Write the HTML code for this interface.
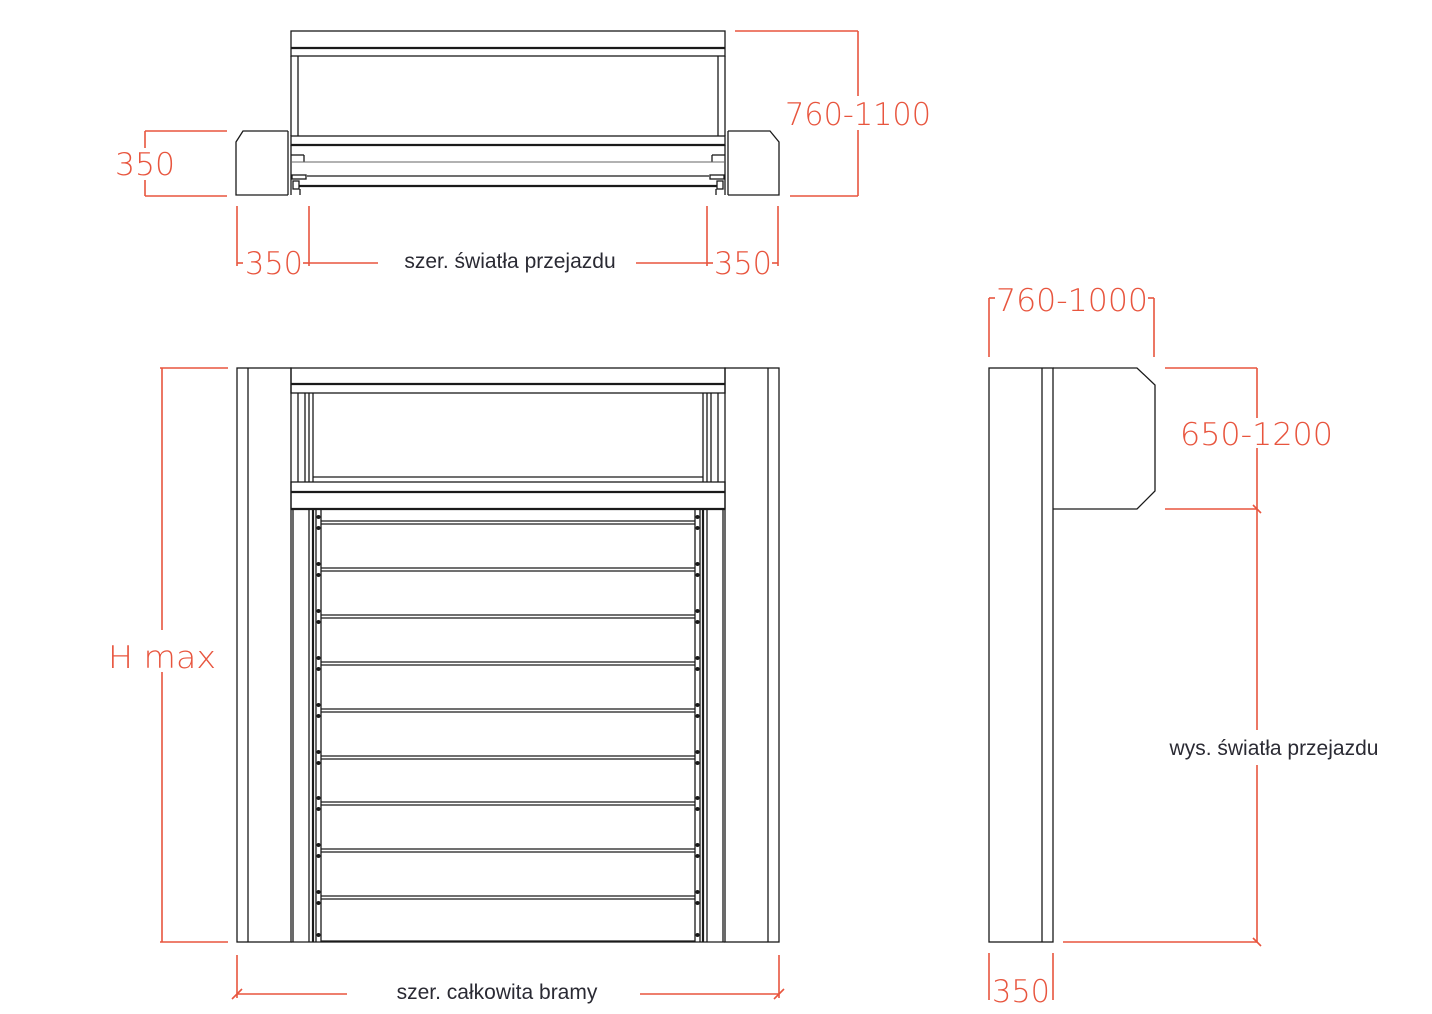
<!DOCTYPE html>
<html><head><meta charset="utf-8"><style>
html,body{margin:0;padding:0;background:#fff;}
svg{display:block;}
.k{stroke:#1a1a1a;fill:none;stroke-width:1.3}
.kb{stroke:#1a1a1a;fill:none;stroke-width:2.2}
.g{stroke:#666;fill:none;stroke-width:1}
.r{stroke:#e8553e;fill:none;stroke-width:1.6}
.rt{fill:#e8553e;font-family:"DejaVu Sans ExtraLight","DejaVu Sans","Liberation Sans",sans-serif;font-size:31px;font-weight:200}
.bt{fill:#2a2a33;font-family:"Liberation Sans","DejaVu Sans",sans-serif;font-size:21px}
</style></head><body>
<svg width="1432" height="1014" viewBox="0 0 1432 1014" xmlns="http://www.w3.org/2000/svg">
<!-- ===== TOP VIEW ===== -->
<rect class="k" x="291" y="31" width="434" height="25"/>
<line class="kb" x1="291" y1="48" x2="725" y2="48"/>
<line class="k" x1="291" y1="56" x2="291" y2="136"/><line class="k" x1="298" y1="56" x2="298" y2="136"/>
<line class="k" x1="718" y1="56" x2="718" y2="136"/><line class="k" x1="725" y1="56" x2="725" y2="136"/>
<rect class="k" x="291" y="136" width="434" height="9"/>
<line class="kb" x1="291" y1="145" x2="725" y2="145"/>
<line class="k" x1="291" y1="145" x2="291" y2="195"/><line class="k" x1="725" y1="145" x2="725" y2="195"/>
<line class="k" x1="291" y1="155" x2="304" y2="155"/><line class="k" x1="304" y1="155" x2="304" y2="162"/>
<line class="k" x1="712" y1="155" x2="725" y2="155"/><line class="k" x1="712" y1="155" x2="712" y2="162"/>
<line class="g" x1="291" y1="162" x2="725" y2="162"/>
<line class="k" x1="307" y1="176" x2="709" y2="176"/>
<rect class="k" x="292" y="175" width="14" height="4"/><rect class="k" x="710" y="175" width="14" height="4"/>
<rect class="k" x="293" y="181" width="6" height="8"/><rect class="k" x="717" y="181" width="6" height="8"/>
<line class="kb" x1="299" y1="186" x2="717" y2="186"/>
<line class="k" x1="300" y1="189" x2="300" y2="195"/><line class="k" x1="716" y1="189" x2="716" y2="195"/>
<path class="k" d="M288 131 H243 L236 142 V195 H288"/>
<path class="k" d="M728 131 H770 L779 142 V195 H728"/>
<line class="k" x1="728" y1="131" x2="728" y2="195"/>
<line class="k" x1="288" y1="131" x2="288" y2="195"/>
<!-- top dims -->
<line class="r" x1="145" y1="131" x2="227" y2="131"/><line class="r" x1="145" y1="196" x2="227" y2="196"/>
<line class="r" x1="145" y1="131" x2="145" y2="148"/><line class="r" x1="145" y1="180" x2="145" y2="196"/>
<text class="rt" x="115" y="175" textLength="60" lengthAdjust="spacingAndGlyphs">350</text>
<line class="r" x1="735" y1="31" x2="858" y2="31"/><line class="r" x1="790" y1="196" x2="858" y2="196"/>
<line class="r" x1="858" y1="31" x2="858" y2="96"/><line class="r" x1="858" y1="130" x2="858" y2="196"/>
<text class="rt" x="785" y="125" textLength="146" lengthAdjust="spacingAndGlyphs">760-1100</text>
<line class="r" x1="237" y1="206" x2="237" y2="266"/><line class="r" x1="309" y1="206" x2="309" y2="266"/>
<line class="r" x1="707" y1="206" x2="707" y2="266"/><line class="r" x1="778" y1="206" x2="778" y2="266"/>
<line class="r" x1="309" y1="263" x2="378" y2="263"/><line class="r" x1="636" y1="263" x2="707" y2="263"/>
<line class="r" x1="237" y1="263" x2="243" y2="263"/><line class="r" x1="303" y1="263" x2="309" y2="263"/>
<line class="r" x1="707" y1="263" x2="713" y2="263"/><line class="r" x1="772" y1="263" x2="778" y2="263"/>
<text class="rt" x="245" y="274" textLength="58" lengthAdjust="spacingAndGlyphs">350</text>
<text class="rt" x="714" y="274" textLength="58" lengthAdjust="spacingAndGlyphs">350</text>
<text class="bt" x="510" y="268" text-anchor="middle">szer. światła przejazdu</text>

<!-- ===== FRONT VIEW ===== -->
<rect class="k" x="237" y="368" width="54" height="574"/>
<line class="k" x1="248" y1="368" x2="248" y2="942"/>
<rect class="k" x="725" y="368" width="54" height="574"/>
<line class="k" x1="768" y1="368" x2="768" y2="942"/>
<rect class="k" x="291" y="368" width="434" height="25"/>
<line class="kb" x1="291" y1="384" x2="725" y2="384"/>
<line class="k" x1="298" y1="393" x2="298" y2="482"/><line class="k" x1="305" y1="393" x2="305" y2="482"/>
<line class="k" x1="309" y1="393" x2="309" y2="482"/><line class="k" x1="313" y1="393" x2="313" y2="482"/>
<line class="k" x1="718" y1="393" x2="718" y2="482"/><line class="k" x1="711" y1="393" x2="711" y2="482"/>
<line class="k" x1="707" y1="393" x2="707" y2="482"/><line class="k" x1="703" y1="393" x2="703" y2="482"/>
<line class="k" x1="313" y1="477" x2="703" y2="477"/>
<rect class="k" x="291" y="482" width="434" height="27"/>
<line class="kb" x1="291" y1="492" x2="725" y2="492"/>
<line class="kb" x1="291" y1="509" x2="725" y2="509"/>
<!-- rails -->
<line class="k" x1="293" y1="509" x2="293" y2="942"/><line class="k" x1="309" y1="509" x2="309" y2="942"/>
<line class="kb" x1="313" y1="509" x2="313" y2="942"/><line class="k" x1="316" y1="509" x2="316" y2="942"/>
<line class="k" x1="321" y1="509" x2="321" y2="942"/>
<line class="k" x1="723" y1="509" x2="723" y2="942"/><line class="k" x1="707" y1="509" x2="707" y2="942"/>
<line class="kb" x1="703" y1="509" x2="703" y2="942"/><line class="k" x1="700" y1="509" x2="700" y2="942"/>
<line class="k" x1="695" y1="509" x2="695" y2="942"/>
<g stroke="#1a1a1a" stroke-width="1.3">
<path d="M321 521H695M321 524H695 M321 568H695M321 571H695 M321 615H695M321 618H695 M321 662H695M321 665H695 M321 709H695M321 712H695 M321 756H695M321 759H695 M321 802H695M321 805H695 M321 849H695M321 852H695 M321 896H695M321 899H695 M321 941H695"/>
</g>
<g fill="#1a1a1a">
<circle cx="318.5" cy="517" r="2"/><circle cx="318.5" cy="528" r="2"/><circle cx="697.5" cy="517" r="2"/><circle cx="697.5" cy="528" r="2"/>
<circle cx="318.5" cy="564" r="2"/><circle cx="318.5" cy="575" r="2"/><circle cx="697.5" cy="564" r="2"/><circle cx="697.5" cy="575" r="2"/>
<circle cx="318.5" cy="611" r="2"/><circle cx="318.5" cy="622" r="2"/><circle cx="697.5" cy="611" r="2"/><circle cx="697.5" cy="622" r="2"/>
<circle cx="318.5" cy="658" r="2"/><circle cx="318.5" cy="669" r="2"/><circle cx="697.5" cy="658" r="2"/><circle cx="697.5" cy="669" r="2"/>
<circle cx="318.5" cy="705" r="2"/><circle cx="318.5" cy="716" r="2"/><circle cx="697.5" cy="705" r="2"/><circle cx="697.5" cy="716" r="2"/>
<circle cx="318.5" cy="752" r="2"/><circle cx="318.5" cy="763" r="2"/><circle cx="697.5" cy="752" r="2"/><circle cx="697.5" cy="763" r="2"/>
<circle cx="318.5" cy="798" r="2"/><circle cx="318.5" cy="809" r="2"/><circle cx="697.5" cy="798" r="2"/><circle cx="697.5" cy="809" r="2"/>
<circle cx="318.5" cy="845" r="2"/><circle cx="318.5" cy="856" r="2"/><circle cx="697.5" cy="845" r="2"/><circle cx="697.5" cy="856" r="2"/>
<circle cx="318.5" cy="892" r="2"/><circle cx="318.5" cy="903" r="2"/><circle cx="697.5" cy="892" r="2"/><circle cx="697.5" cy="903" r="2"/>
<circle cx="318.5" cy="935" r="2"/><circle cx="697.5" cy="935" r="2"/>
</g>
<line class="k" x1="291" y1="942" x2="725" y2="942"/>
<!-- front dims -->
<line class="r" x1="160" y1="368" x2="228" y2="368"/><line class="r" x1="160" y1="942" x2="228" y2="942"/>
<line class="r" x1="162" y1="368" x2="162" y2="630"/><line class="r" x1="162" y1="672" x2="162" y2="942"/>
<text class="rt" x="108" y="668" textLength="108" lengthAdjust="spacingAndGlyphs">H max</text>
<line class="r" x1="237" y1="955" x2="237" y2="998"/><line class="r" x1="779" y1="955" x2="779" y2="998"/>
<line class="r" x1="237" y1="994" x2="347" y2="994"/><line class="r" x1="640" y1="994" x2="779" y2="994"/>
<line class="r" x1="232" y1="999" x2="242" y2="989"/><line class="r" x1="774" y1="999" x2="784" y2="989"/>
<text class="bt" x="497" y="999" text-anchor="middle">szer. całkowita bramy</text>

<!-- ===== SIDE VIEW ===== -->
<rect class="k" x="989" y="368" width="64" height="574"/>
<line class="k" x1="1042" y1="368" x2="1042" y2="942"/>
<path class="k" d="M1053 368 H1137 L1155 385 V491 L1137 509 H1053"/>
<line class="r" x1="989" y1="298" x2="989" y2="357"/><line class="r" x1="1154" y1="298" x2="1154" y2="357"/>
<line class="r" x1="989" y1="298" x2="995" y2="298"/><line class="r" x1="1148" y1="298" x2="1154" y2="298"/>
<text class="rt" x="996" y="311" textLength="152" lengthAdjust="spacingAndGlyphs">760-1000</text>
<line class="r" x1="1165" y1="368" x2="1257" y2="368"/><line class="r" x1="1165" y1="509" x2="1257" y2="509"/>
<line class="r" x1="1063" y1="942" x2="1257" y2="942"/>
<line class="r" x1="1257" y1="368" x2="1257" y2="418"/><line class="r" x1="1257" y1="448" x2="1257" y2="730"/>
<line class="r" x1="1257" y1="765" x2="1257" y2="942"/>
<line class="r" x1="1253" y1="505" x2="1261" y2="513"/><line class="r" x1="1253" y1="938" x2="1261" y2="946"/>
<text class="rt" x="1180" y="445" textLength="153" lengthAdjust="spacingAndGlyphs">650-1200</text>
<text class="bt" x="1274" y="755" text-anchor="middle">wys. światła przejazdu</text>
<line class="r" x1="989" y1="953" x2="989" y2="1000"/><line class="r" x1="1053" y1="953" x2="1053" y2="1000"/>
<text class="rt" x="992" y="1002" textLength="58" lengthAdjust="spacingAndGlyphs">350</text>
</svg>
</body></html>
